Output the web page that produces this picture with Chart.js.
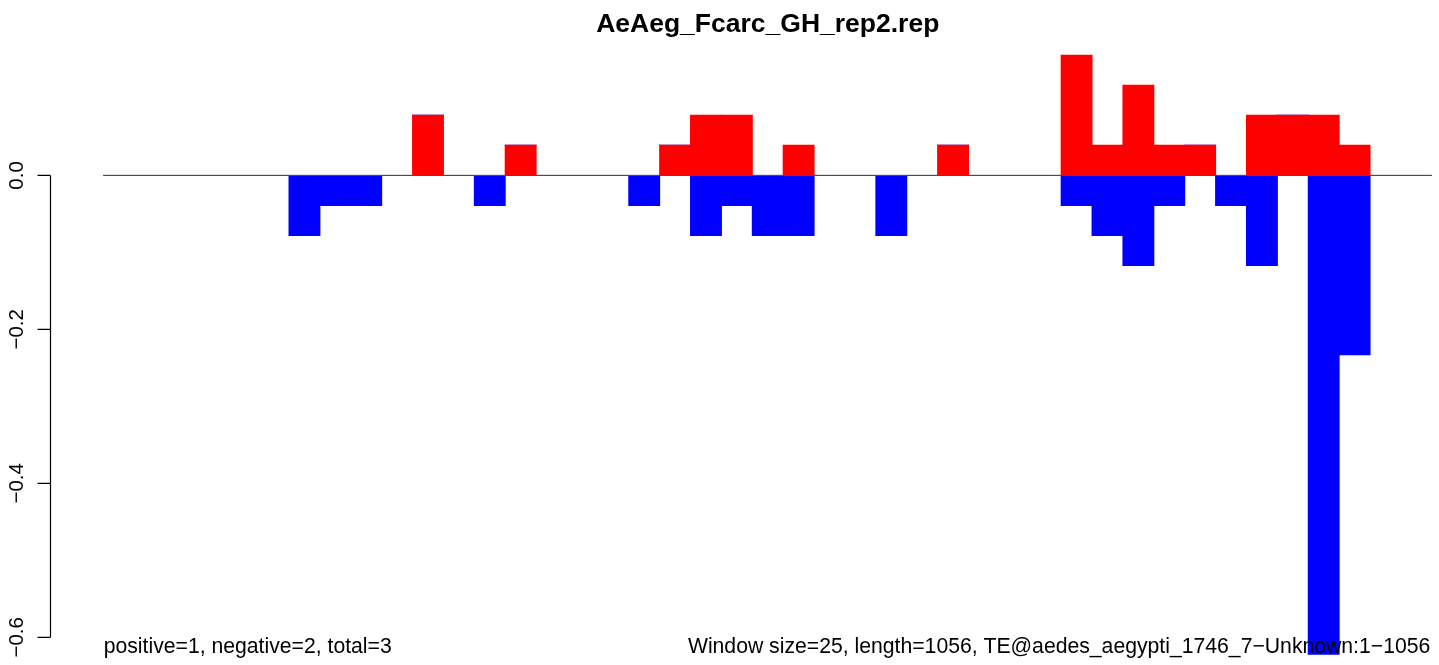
<!DOCTYPE html>
<html>
<head>
<meta charset="utf-8">
<title>AeAeg_Fcarc_GH_rep2.rep</title>
<script src="https://cdn.jsdelivr.net/npm/chart.js@4/dist/chart.umd.min.js"></script>
<style>
  html, body { margin: 0; padding: 0; background: #fff; }
  canvas { display: block; }
</style>
</head>
<body>
<canvas id="repChart" width="1439" height="665"></canvas>
<script>
// 25 bp windows along the 1056 bp element
const windows = Array.from({ length: 43 }, (_, i) => String(i + 1));

const positiveScores = [
    0, 0, 0, 0, 0, 0, 0, 0, 0, 0,
    0.078, 0, 0, 0.039, 0, 0, 0, 0, 0.039, 0.078,
    0.078, 0, 0.039, 0, 0, 0, 0, 0.039, 0, 0,
    0, 0.156, 0.039, 0.117, 0.039, 0.039, 0, 0.078, 0.078, 0.078,
    0.039, 0, 0
];

const negativeScores = [
    0, 0, 0, 0, 0, 0, -0.078, -0.039, -0.039, 0,
    0, 0, -0.039, 0, 0, 0, 0, -0.039, 0, -0.078,
    -0.039, -0.078, -0.078, 0, 0, -0.078, 0, 0, 0, 0,
    0, -0.039, -0.078, -0.117, -0.039, 0, -0.039, -0.117, 0, -0.622,
    -0.233, 0, 0
];

const yTicks = [0, -0.2, -0.4, -0.6];
const yTickLabels = ['0.0', '\u22120.2', '\u22120.4', '\u22120.6'];

const titleText = 'AeAeg_Fcarc_GH_rep2.rep';
const countsText = 'positive=1, negative=2, total=3';
const infoText = 'Window size=25, length=1056, TE@aedes_aegypti_1746_7\u2212Unknown:1\u22121056';

const FONT = '"Liberation Sans", Arial, Helvetica, sans-serif';

// base-graphics style decorations: zero line, left axis, title and margin notes
const rStyle = {
    id: 'rStyle',
    beforeDatasetsDraw(chart) {
        const { ctx, chartArea, scales } = chart;
        const y0 = scales.y.getPixelForValue(0);
        ctx.save();
        ctx.strokeStyle = '#808080';
        ctx.lineWidth = 1.2;
        ctx.beginPath();
        ctx.moveTo(chartArea.left - 0.7, y0);
        ctx.lineTo(chartArea.right, y0);
        ctx.stroke();
        ctx.restore();
    },
    afterDraw(chart) {
        const { ctx, chartArea, scales } = chart;
        const y = scales.y;
        const axisX = 50.5;
        ctx.save();

        // y axis spans only the tick range
        ctx.strokeStyle = '#000';
        ctx.lineWidth = 1.2;
        ctx.beginPath();
        ctx.moveTo(axisX, y.getPixelForValue(yTicks[0]));
        ctx.lineTo(axisX, y.getPixelForValue(yTicks[yTicks.length - 1]));
        yTicks.forEach(t => {
            const py = y.getPixelForValue(t);
            ctx.moveTo(axisX, py);
            ctx.lineTo(axisX - 13, py);
        });
        ctx.stroke();

        // rotated tick labels
        ctx.fillStyle = '#000';
        ctx.font = '20.5px ' + FONT;
        ctx.textAlign = 'center';
        ctx.textBaseline = 'alphabetic';
        yTicks.forEach((t, i) => {
            const py = y.getPixelForValue(t);
            ctx.save();
            ctx.translate(22.5, py);
            ctx.rotate(-Math.PI / 2);
            ctx.fillText(yTickLabels[i], 0, 0);
            ctx.restore();
        });

        // title
        ctx.font = 'bold 26.5px ' + FONT;
        ctx.textAlign = 'center';
        ctx.fillText(titleText, (chartArea.left + chartArea.right) / 2, 31.7);

        // notes under the plot
        ctx.font = '21.2px ' + FONT;
        ctx.textAlign = 'left';
        ctx.fillText(countsText, chartArea.left, 652.5);
        ctx.textAlign = 'right';
        ctx.fillText(infoText, chartArea.right - 1.5, 652.5);

        ctx.restore();
    }
};

const chart = new Chart(document.getElementById('repChart').getContext('2d'), {
    type: 'bar',
    data: {
        labels: windows,
        datasets: [{
            label: 'positive',
            data: positiveScores,
            backgroundColor: '#ff0000',
            borderWidth: 0,
            inflateAmount: 0.5
        }, {
            label: 'negative',
            data: negativeScores,
            backgroundColor: '#0000ff',
            borderWidth: 0,
            inflateAmount: 0.5
        }]
    },
    options: {
        responsive: false,
        animation: false,
        layout: {
            padding: { left: 103.7, right: 7.2, top: 36.8, bottom: 4.6 }
        },
        datasets: {
            bar: { barPercentage: 1, categoryPercentage: 1 }
        },
        scales: {
            x: { display: false, stacked: true },
            y: { display: false, stacked: true, min: -0.63, max: 0.18 }
        },
        plugins: {
            legend: { display: false },
            title: { display: false },
            tooltip: { enabled: false }
        }
    },
    plugins: [rStyle]
});
</script>
</body>
</html>
